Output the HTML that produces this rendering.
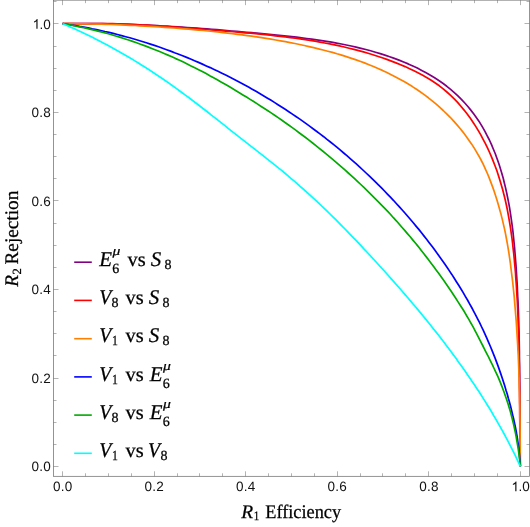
<!DOCTYPE html>
<html><head><meta charset="utf-8"><title>R1 Efficiency vs R2 Rejection</title>
<style>
html,body{margin:0;padding:0;background:#fff;}
body{width:530px;height:527px;overflow:hidden;}
svg{display:block;will-change:transform;}
.tk{font-family:"Liberation Sans",sans-serif;font-size:13.5px;fill:#111;text-rendering:geometricPrecision;}
.ser{font-family:"Liberation Serif",serif;fill:#000;stroke:#000;stroke-width:0.25px;text-rendering:geometricPrecision;}
.it{font-style:italic;}
</style></head><body>
<svg width="530" height="527" viewBox="0 0 530 527">
<rect x="0" y="0" width="530" height="527" fill="#fff"/>

<g fill="none" stroke-width="1.7" stroke-linejoin="round" stroke-linecap="butt">
<path stroke="#800080" d="M62.6,23.7 L67.7,23.7 L72.7,23.7 L77.7,23.7 L82.8,23.7 L87.8,23.7 L92.8,23.7 L97.8,23.7 L102.8,23.7 L107.8,23.8 L112.8,24.0 L117.8,24.1 L122.7,24.2 L127.7,24.4 L132.7,24.6 L137.6,24.8 L142.6,25.0 L147.6,25.2 L152.5,25.4 L157.5,25.7 L162.4,26.0 L167.4,26.2 L172.3,26.5 L177.3,26.8 L182.2,27.2 L187.2,27.5 L192.1,27.8 L197.1,28.2 L202.0,28.6 L207.0,28.9 L211.9,29.3 L216.9,29.7 L221.9,30.1 L226.8,30.5 L231.8,31.0 L236.8,31.4 L241.7,31.8 L246.7,32.3 L251.7,32.7 L256.7,33.2 L261.7,33.6 L266.7,34.1 L271.7,34.6 L276.7,35.1 L281.7,35.6 L286.7,36.1 L291.7,36.7 L296.7,37.2 L301.7,37.8 L306.7,38.5 L311.7,39.1 L316.7,39.8 L321.7,40.6 L326.6,41.4 L331.6,42.2 L336.5,43.1 L341.4,44.0 L346.3,45.0 L351.2,46.0 L356.1,47.1 L361.0,48.3 L365.8,49.5 L370.6,50.8 L375.4,52.2 L380.2,53.6 L384.9,55.1 L389.7,56.7 L394.3,58.4 L399.0,60.1 L403.6,62.0 L408.2,63.9 L412.8,66.0 L417.3,68.1 L421.7,70.4 L426.1,72.7 L430.4,75.2 L434.6,77.8 L438.8,80.5 L442.8,83.3 L446.8,86.3 L450.6,89.4 L454.3,92.6 L457.9,95.9 L461.4,99.4 L464.8,103.0 L468.1,106.7 L471.2,110.6 L474.2,114.5 L477.0,118.5 L479.8,122.6 L482.4,126.9 L484.8,131.2 L487.1,135.6 L489.4,140.0 L491.5,144.6 L493.4,149.2 L495.3,153.8 L497.0,158.5 L498.7,163.3 L500.2,168.1 L501.7,172.9 L503.1,177.8 L504.3,182.7 L505.5,187.6 L506.6,192.5 L507.6,197.5 L508.6,202.4 L509.5,207.4 L510.3,212.3 L511.0,217.2 L511.7,222.2 L512.4,227.1 L513.0,232.1 L513.5,237.0 L514.0,242.0 L514.5,246.9 L514.9,251.9 L515.3,256.8 L515.7,261.8 L516.1,266.7 L516.4,271.7 L516.7,276.7 L517.0,281.6 L517.3,286.6 L517.5,291.6 L517.7,296.6 L518.0,301.5 L518.2,306.5 L518.4,311.5 L518.5,316.5 L518.7,321.5 L518.8,326.5 L519.0,331.5 L519.1,336.5 L519.2,341.5 L519.3,346.4 L519.4,351.4 L519.4,356.4 L519.5,361.4 L519.6,366.4 L519.6,371.4 L519.7,376.4 L519.7,381.4 L519.8,386.4 L519.8,391.4 L519.8,396.4 L519.9,401.4 L519.9,406.4 L519.9,411.4 L519.9,416.4 L520.0,421.4 L520.0,426.4 L520.0,431.4 L520.0,436.4 L520.1,441.4 L520.1,446.4 L520.1,451.4 L520.2,456.3 L520.2,461.3 L520.3,466.3"/>
<path stroke="#ff0000" d="M62.6,23.7 L67.7,23.7 L72.7,23.7 L77.7,23.7 L82.8,23.7 L87.8,23.7 L92.7,23.7 L97.7,23.7 L102.7,23.7 L107.6,23.7 L112.6,23.7 L117.5,23.8 L122.4,24.0 L127.3,24.2 L132.3,24.4 L137.2,24.7 L142.1,25.0 L147.0,25.2 L151.9,25.5 L156.8,25.8 L161.6,26.2 L166.5,26.5 L171.4,26.9 L176.3,27.2 L181.2,27.6 L186.1,28.0 L191.0,28.4 L196.0,28.7 L200.9,29.1 L205.8,29.5 L210.7,29.9 L215.7,30.3 L220.7,30.7 L225.6,31.1 L230.6,31.5 L235.6,31.9 L240.5,32.4 L245.5,32.8 L250.5,33.2 L255.5,33.7 L260.5,34.2 L265.5,34.7 L270.4,35.2 L275.4,35.8 L280.4,36.3 L285.4,36.9 L290.3,37.6 L295.3,38.2 L300.2,38.9 L305.2,39.7 L310.1,40.4 L315.0,41.2 L319.9,42.1 L324.8,43.0 L329.7,43.9 L334.6,44.9 L339.4,45.9 L344.3,47.0 L349.1,48.2 L353.9,49.4 L358.7,50.6 L363.4,51.9 L368.1,53.3 L372.9,54.7 L377.5,56.2 L382.2,57.8 L386.8,59.4 L391.4,61.1 L396.0,62.9 L400.6,64.7 L405.1,66.6 L409.6,68.7 L414.0,70.8 L418.4,73.0 L422.7,75.3 L427.0,77.7 L431.2,80.3 L435.3,83.0 L439.3,85.8 L443.2,88.8 L446.9,92.0 L450.6,95.3 L454.2,98.8 L457.6,102.4 L460.9,106.2 L464.1,110.1 L467.2,114.1 L470.2,118.1 L473.0,122.2 L475.7,126.4 L478.3,130.6 L480.8,134.9 L483.1,139.3 L485.4,143.6 L487.6,148.1 L489.6,152.5 L491.6,157.1 L493.4,161.6 L495.2,166.2 L496.9,170.8 L498.4,175.5 L499.9,180.2 L501.3,185.0 L502.7,189.7 L503.9,194.5 L505.1,199.3 L506.2,204.2 L507.2,209.0 L508.1,213.9 L509.0,218.8 L509.8,223.7 L510.6,228.6 L511.3,233.6 L512.0,238.5 L512.6,243.5 L513.1,248.4 L513.7,253.4 L514.2,258.4 L514.6,263.3 L515.1,268.3 L515.5,273.2 L515.8,278.2 L516.2,283.1 L516.5,288.1 L516.8,293.0 L517.1,298.0 L517.4,302.9 L517.6,307.9 L517.8,312.8 L518.1,317.7 L518.2,322.7 L518.4,327.6 L518.6,332.6 L518.7,337.5 L518.8,342.4 L518.9,347.4 L519.1,352.3 L519.1,357.2 L519.2,362.2 L519.3,367.1 L519.4,372.1 L519.4,377.0 L519.5,381.9 L519.5,386.9 L519.6,391.8 L519.6,396.8 L519.6,401.7 L519.7,406.7 L519.7,411.6 L519.7,416.6 L519.8,421.5 L519.8,426.5 L519.8,431.5 L519.9,436.4 L519.9,441.4 L520.0,446.4 L520.1,451.3 L520.1,456.3 L520.2,461.3 L520.3,466.3"/>
<path stroke="#ff8000" d="M62.6,23.7 L67.4,23.7 L72.2,23.7 L77.0,23.8 L81.8,23.8 L86.6,23.9 L91.4,24.0 L96.2,24.1 L101.1,24.2 L105.9,24.4 L110.8,24.5 L115.6,24.7 L120.5,24.9 L125.3,25.1 L130.2,25.3 L135.1,25.5 L139.9,25.8 L144.8,26.1 L149.7,26.3 L154.6,26.6 L159.4,27.0 L164.3,27.3 L169.2,27.6 L174.1,28.0 L179.0,28.4 L183.8,28.8 L188.7,29.2 L193.6,29.6 L198.5,30.1 L203.3,30.5 L208.2,31.0 L213.1,31.5 L217.9,32.0 L222.8,32.6 L227.6,33.1 L232.5,33.7 L237.3,34.3 L242.2,34.9 L247.0,35.6 L251.8,36.2 L256.6,36.9 L261.4,37.6 L266.2,38.4 L271.0,39.2 L275.8,40.0 L280.6,40.8 L285.4,41.7 L290.1,42.6 L294.9,43.5 L299.6,44.5 L304.3,45.5 L309.0,46.6 L313.7,47.7 L318.4,48.8 L323.1,50.0 L327.8,51.2 L332.4,52.4 L337.0,53.8 L341.7,55.1 L346.3,56.6 L350.8,58.1 L355.4,59.6 L360.0,61.3 L364.5,62.9 L369.0,64.7 L373.5,66.5 L378.0,68.5 L382.4,70.4 L386.9,72.5 L391.2,74.7 L395.6,76.9 L399.8,79.2 L404.1,81.6 L408.3,84.1 L412.4,86.6 L416.5,89.3 L420.5,92.0 L424.5,94.9 L428.4,97.8 L432.2,100.8 L435.9,103.9 L439.6,107.2 L443.2,110.5 L446.7,113.9 L450.2,117.3 L453.5,120.9 L456.8,124.6 L459.9,128.3 L463.0,132.1 L465.9,135.9 L468.7,139.9 L471.5,143.9 L474.1,147.9 L476.6,152.1 L479.0,156.2 L481.3,160.5 L483.4,164.7 L485.4,169.1 L487.4,173.5 L489.2,177.9 L490.9,182.4 L492.6,186.9 L494.2,191.4 L495.7,196.0 L497.1,200.6 L498.5,205.3 L499.8,209.9 L501.1,214.6 L502.3,219.4 L503.4,224.1 L504.5,228.9 L505.5,233.7 L506.4,238.5 L507.3,243.3 L508.1,248.2 L508.9,253.0 L509.6,257.9 L510.3,262.7 L510.9,267.6 L511.5,272.5 L512.1,277.3 L512.7,282.2 L513.2,287.0 L513.7,291.9 L514.2,296.7 L514.6,301.6 L515.0,306.4 L515.4,311.3 L515.8,316.1 L516.2,320.9 L516.5,325.8 L516.8,330.6 L517.1,335.4 L517.4,340.2 L517.7,345.1 L517.9,349.9 L518.2,354.7 L518.4,359.5 L518.6,364.4 L518.8,369.2 L518.9,374.0 L519.1,378.8 L519.2,383.7 L519.3,388.5 L519.5,393.3 L519.6,398.2 L519.7,403.0 L519.8,407.9 L519.8,412.7 L519.9,417.6 L520.0,422.4 L520.0,427.3 L520.1,432.1 L520.1,437.0 L520.2,441.9 L520.2,446.7 L520.2,451.6 L520.3,456.5 L520.3,461.4 L520.3,466.3"/>
<path stroke="#0000ff" d="M62.6,23.7 L66.9,24.3 L71.1,25.0 L75.4,25.6 L79.6,26.4 L83.8,27.1 L88.1,27.9 L92.3,28.8 L96.5,29.6 L100.7,30.5 L104.9,31.5 L109.1,32.4 L113.2,33.4 L117.4,34.5 L121.6,35.6 L125.7,36.7 L129.8,37.8 L134.0,39.0 L138.1,40.2 L142.2,41.5 L146.3,42.8 L150.4,44.1 L154.4,45.4 L158.5,46.8 L162.6,48.2 L166.6,49.7 L170.6,51.1 L174.6,52.7 L178.7,54.2 L182.6,55.8 L186.6,57.4 L190.6,59.0 L194.5,60.7 L198.5,62.4 L202.4,64.1 L206.3,65.9 L210.2,67.6 L214.1,69.5 L218.0,71.3 L221.9,73.2 L225.7,75.1 L229.6,77.0 L233.4,79.0 L237.2,81.0 L241.0,83.0 L244.7,85.0 L248.5,87.1 L252.2,89.2 L256.0,91.3 L259.7,93.5 L263.4,95.7 L267.1,97.9 L270.7,100.1 L274.4,102.4 L278.0,104.7 L281.6,107.0 L285.2,109.3 L288.8,111.7 L292.4,114.1 L295.9,116.5 L299.5,118.9 L303.0,121.4 L306.5,123.9 L309.9,126.4 L313.4,129.0 L316.8,131.5 L320.3,134.1 L323.7,136.7 L327.0,139.4 L330.4,142.0 L333.7,144.7 L337.1,147.4 L340.4,150.2 L343.7,153.0 L346.9,155.7 L350.2,158.6 L353.4,161.4 L356.6,164.2 L359.8,167.1 L362.9,170.0 L366.1,173.0 L369.2,175.9 L372.3,178.9 L375.4,181.9 L378.4,184.9 L381.5,187.9 L384.5,191.0 L387.4,194.1 L390.4,197.2 L393.4,200.3 L396.3,203.5 L399.2,206.6 L402.0,209.8 L404.9,213.0 L407.7,216.3 L410.5,219.5 L413.3,222.8 L416.0,226.1 L418.8,229.4 L421.5,232.8 L424.1,236.1 L426.8,239.5 L429.4,242.9 L432.0,246.3 L434.6,249.8 L437.1,253.3 L439.6,256.7 L442.1,260.2 L444.6,263.8 L447.0,267.3 L449.4,270.9 L451.8,274.4 L454.1,278.0 L456.4,281.7 L458.7,285.3 L461.0,289.0 L463.2,292.6 L465.3,296.3 L467.5,300.0 L469.6,303.8 L471.7,307.5 L473.7,311.3 L475.7,315.1 L477.6,318.9 L479.6,322.7 L481.4,326.5 L483.3,330.4 L485.1,334.3 L486.8,338.2 L488.5,342.1 L490.2,346.0 L491.8,349.9 L493.4,353.9 L495.0,357.9 L496.5,361.9 L498.0,365.9 L499.4,369.9 L500.8,373.9 L502.2,378.0 L503.5,382.1 L504.8,386.1 L506.0,390.2 L507.3,394.3 L508.4,398.5 L509.6,402.6 L510.7,406.8 L511.7,410.9 L512.7,415.1 L513.7,419.3 L514.6,423.5 L515.5,427.7 L516.3,432.0 L517.0,436.2 L517.7,440.5 L518.3,444.8 L518.9,449.0 L519.3,453.3 L519.7,457.6 L520.1,462.0 L520.3,466.3"/>
<path stroke="#00aa00" d="M62.6,23.7 L66.8,24.4 L71.0,25.2 L75.2,26.0 L79.4,26.8 L83.6,27.7 L87.8,28.6 L91.9,29.6 L96.0,30.6 L100.1,31.6 L104.2,32.7 L108.3,33.8 L112.4,35.0 L116.5,36.2 L120.5,37.4 L124.5,38.7 L128.6,40.0 L132.6,41.4 L136.6,42.8 L140.5,44.2 L144.5,45.6 L148.4,47.1 L152.4,48.7 L156.3,50.2 L160.2,51.8 L164.1,53.5 L168.0,55.1 L171.9,56.8 L175.7,58.6 L179.6,60.3 L183.4,62.1 L187.2,64.0 L191.0,65.9 L194.8,67.8 L198.6,69.7 L202.3,71.6 L206.1,73.6 L209.8,75.7 L213.6,77.7 L217.3,79.8 L221.0,81.9 L224.7,84.0 L228.3,86.1 L232.0,88.3 L235.6,90.5 L239.3,92.7 L242.9,94.9 L246.5,97.1 L250.1,99.4 L253.7,101.6 L257.3,103.9 L260.8,106.2 L264.4,108.5 L267.9,110.8 L271.5,113.1 L275.0,115.5 L278.5,117.9 L281.9,120.3 L285.4,122.7 L288.9,125.2 L292.3,127.6 L295.7,130.1 L299.1,132.7 L302.5,135.2 L305.9,137.8 L309.3,140.4 L312.6,143.0 L315.9,145.6 L319.3,148.3 L322.6,151.0 L325.8,153.6 L329.1,156.4 L332.4,159.1 L335.6,161.8 L338.8,164.6 L342.0,167.4 L345.2,170.2 L348.3,173.0 L351.5,175.8 L354.6,178.7 L357.7,181.6 L360.8,184.5 L363.9,187.4 L366.9,190.3 L369.9,193.3 L372.9,196.3 L375.9,199.3 L378.9,202.3 L381.8,205.3 L384.8,208.4 L387.7,211.4 L390.6,214.5 L393.4,217.7 L396.3,220.8 L399.1,224.0 L401.9,227.2 L404.7,230.4 L407.4,233.6 L410.2,236.8 L412.9,240.1 L415.6,243.3 L418.3,246.6 L420.9,250.0 L423.5,253.3 L426.1,256.6 L428.7,260.0 L431.3,263.4 L433.8,266.8 L436.3,270.2 L438.8,273.6 L441.3,277.0 L443.8,280.5 L446.2,284.0 L448.6,287.5 L451.0,291.0 L453.3,294.5 L455.6,298.0 L457.9,301.6 L460.2,305.2 L462.5,308.7 L464.7,312.3 L466.8,316.0 L469.0,319.6 L471.0,323.3 L473.1,326.9 L475.0,330.6 L477.0,334.3 L478.9,338.1 L480.8,341.8 L482.7,345.5 L484.6,349.3 L486.5,353.1 L488.5,356.9 L490.4,360.8 L492.3,364.6 L494.1,368.5 L495.9,372.3 L497.7,376.2 L499.4,380.2 L501.0,384.1 L502.5,388.0 L504.0,392.0 L505.4,396.0 L506.8,400.0 L508.1,404.0 L509.3,408.1 L510.5,412.1 L511.6,416.2 L512.6,420.3 L513.6,424.4 L514.5,428.5 L515.4,432.6 L516.2,436.8 L516.9,441.0 L517.6,445.1 L518.3,449.3 L518.9,453.6 L519.4,457.8 L519.9,462.0 L520.3,466.3"/>
<path stroke="#00ffff" d="M62.6,23.7 L66.4,25.3 L70.2,26.9 L73.9,28.6 L77.6,30.3 L81.4,32.0 L85.0,33.8 L88.7,35.5 L92.4,37.3 L96.0,39.2 L99.6,41.0 L103.2,42.9 L106.8,44.8 L110.4,46.7 L113.9,48.7 L117.5,50.7 L121.0,52.7 L124.5,54.7 L128.0,56.7 L131.5,58.8 L134.9,60.9 L138.4,63.0 L141.8,65.2 L145.2,67.3 L148.7,69.5 L152.1,71.7 L155.4,74.0 L158.8,76.2 L162.2,78.5 L165.5,80.8 L168.9,83.1 L172.2,85.5 L175.5,87.9 L178.8,90.2 L182.1,92.7 L185.4,95.1 L188.7,97.5 L191.9,100.0 L195.2,102.5 L198.5,105.0 L201.7,107.5 L205.0,110.0 L208.2,112.5 L211.4,115.1 L214.7,117.6 L217.9,120.2 L221.1,122.7 L224.3,125.2 L227.5,127.8 L230.7,130.3 L233.9,132.8 L237.1,135.3 L240.3,137.8 L243.5,140.3 L246.7,142.8 L249.9,145.3 L253.1,147.8 L256.3,150.3 L259.5,152.8 L262.7,155.3 L265.8,157.8 L269.0,160.3 L272.1,162.8 L275.3,165.3 L278.4,167.9 L281.6,170.4 L284.7,173.0 L287.8,175.6 L290.9,178.3 L294.0,180.9 L297.1,183.6 L300.1,186.3 L303.2,189.0 L306.2,191.7 L309.2,194.4 L312.2,197.1 L315.2,199.9 L318.2,202.7 L321.2,205.5 L324.2,208.3 L327.1,211.1 L330.0,214.0 L332.9,216.9 L335.8,219.7 L338.7,222.7 L341.6,225.6 L344.5,228.5 L347.3,231.4 L350.1,234.3 L353.0,237.3 L355.8,240.2 L358.6,243.1 L361.4,246.1 L364.1,249.1 L366.9,252.0 L369.7,255.0 L372.4,258.0 L375.2,261.0 L377.9,264.0 L380.6,267.0 L383.4,270.0 L386.1,273.0 L388.8,276.0 L391.5,279.1 L394.2,282.1 L396.9,285.2 L399.6,288.2 L402.2,291.3 L404.9,294.4 L407.6,297.5 L410.2,300.6 L412.8,303.7 L415.5,306.8 L418.1,309.9 L420.7,313.1 L423.3,316.2 L425.9,319.4 L428.4,322.5 L431.0,325.7 L433.5,328.9 L436.1,332.1 L438.6,335.3 L441.1,338.5 L443.6,341.7 L446.0,345.0 L448.5,348.2 L450.9,351.5 L453.3,354.8 L455.8,358.1 L458.1,361.4 L460.5,364.7 L462.9,368.0 L465.2,371.3 L467.5,374.7 L469.8,378.0 L472.1,381.4 L474.4,384.8 L476.6,388.2 L478.9,391.6 L481.1,395.0 L483.2,398.4 L485.4,401.9 L487.5,405.3 L489.7,408.8 L491.8,412.3 L493.8,415.8 L495.9,419.3 L497.9,422.8 L499.9,426.4 L501.9,429.9 L503.9,433.5 L505.8,437.1 L507.7,440.7 L509.6,444.3 L511.4,447.9 L513.3,451.6 L515.1,455.2 L516.8,458.9 L518.6,462.6 L520.3,466.3"/>
</g>
<path d="M62.50,476.3 v-5.0 M62.50,0.15 v5.0 M85.50,476.3 v-3.0 M85.50,0.15 v3.0 M108.50,476.3 v-3.0 M108.50,0.15 v3.0 M131.50,476.3 v-3.0 M131.50,0.15 v3.0 M154.50,476.3 v-5.0 M154.50,0.15 v5.0 M177.50,476.3 v-3.0 M177.50,0.15 v3.0 M199.50,476.3 v-3.0 M199.50,0.15 v3.0 M222.50,476.3 v-3.0 M222.50,0.15 v3.0 M245.50,476.3 v-5.0 M245.50,0.15 v5.0 M268.50,476.3 v-3.0 M268.50,0.15 v3.0 M291.50,476.3 v-3.0 M291.50,0.15 v3.0 M314.50,476.3 v-3.0 M314.50,0.15 v3.0 M337.50,476.3 v-5.0 M337.50,0.15 v5.0 M360.50,476.3 v-3.0 M360.50,0.15 v3.0 M382.50,476.3 v-3.0 M382.50,0.15 v3.0 M405.50,476.3 v-3.0 M405.50,0.15 v3.0 M428.50,476.3 v-5.0 M428.50,0.15 v5.0 M451.50,476.3 v-3.0 M451.50,0.15 v3.0 M474.50,476.3 v-3.0 M474.50,0.15 v3.0 M497.50,476.3 v-3.0 M497.50,0.15 v3.0 M520.50,476.3 v-5.0 M520.50,0.15 v5.0 M53.5,466.50 h5.0 M529.5,466.50 h-5.0 M53.5,444.50 h3.0 M529.5,444.50 h-3.0 M53.5,422.50 h3.0 M529.5,422.50 h-3.0 M53.5,400.50 h3.0 M529.5,400.50 h-3.0 M53.5,378.50 h5.0 M529.5,378.50 h-5.0 M53.5,355.50 h3.0 M529.5,355.50 h-3.0 M53.5,333.50 h3.0 M529.5,333.50 h-3.0 M53.5,311.50 h3.0 M529.5,311.50 h-3.0 M53.5,289.50 h5.0 M529.5,289.50 h-5.0 M53.5,267.50 h3.0 M529.5,267.50 h-3.0 M53.5,245.50 h3.0 M529.5,245.50 h-3.0 M53.5,223.50 h3.0 M529.5,223.50 h-3.0 M53.5,200.50 h5.0 M529.5,200.50 h-5.0 M53.5,178.50 h3.0 M529.5,178.50 h-3.0 M53.5,156.50 h3.0 M529.5,156.50 h-3.0 M53.5,134.50 h3.0 M529.5,134.50 h-3.0 M53.5,112.50 h5.0 M529.5,112.50 h-5.0 M53.5,90.50 h3.0 M529.5,90.50 h-3.0 M53.5,68.50 h3.0 M529.5,68.50 h-3.0 M53.5,46.50 h3.0 M529.5,46.50 h-3.0 M53.5,23.50 h5.0 M529.5,23.50 h-5.0 M53.5,1.50 h3.0 M529.5,1.50 h-3.0" stroke="#666666" stroke-width="0.5" fill="none"/>
<rect x="53.5" y="0.15" width="476.0" height="476.15000000000003" fill="none" stroke="#666666" stroke-width="0.7"/>
<text class="tk" x="52.97" y="491.20" letter-spacing="0.25">0.0</text>
<text class="tk" x="31.53" y="471.42" letter-spacing="0.25">0.0</text>
<text class="tk" x="144.51" y="491.20" letter-spacing="0.25">0.2</text>
<text class="tk" x="31.53" y="382.90" letter-spacing="0.25">0.2</text>
<text class="tk" x="236.05" y="491.20" letter-spacing="0.25">0.4</text>
<text class="tk" x="31.53" y="294.38" letter-spacing="0.25">0.4</text>
<text class="tk" x="327.59" y="491.20" letter-spacing="0.25">0.6</text>
<text class="tk" x="31.53" y="205.86" letter-spacing="0.25">0.6</text>
<text class="tk" x="419.13" y="491.20" letter-spacing="0.25">0.8</text>
<text class="tk" x="31.53" y="117.34" letter-spacing="0.25">0.8</text>
<path d="M763,0 L583,0 L583,1147 Q518,1085 412.5,1023 Q307,961 223,930 L223,1104 Q374,1175 487,1276 Q600,1377 647,1472 L763,1472 Z" fill="#111" transform="translate(511.42,491.20) scale(0.006592,-0.006592)"/><text class="tk" x="518.42" y="491.20">.0</text>
<path d="M763,0 L583,0 L583,1147 Q518,1085 412.5,1023 Q307,961 223,930 L223,1104 Q374,1175 487,1276 Q600,1377 647,1472 L763,1472 Z" fill="#111" transform="translate(32.53,28.82) scale(0.006592,-0.006592)"/><text class="tk" x="39.54" y="28.82">.0</text>
<text class="ser it" transform="translate(241.2,517.6) scale(1.01,1)" font-size="19.25">R</text>
<text class="ser" transform="translate(253.7,520.3) scale(0.85,1)" font-size="12.8">1</text>
<text class="ser" transform="translate(265.2,517.6) scale(0.951,1)" font-size="19.25">Efficiency</text>
<g transform="translate(18,286.8) rotate(-90)"><text class="ser" x="0" y="0" font-size="19.25"><tspan class="it">R</tspan><tspan font-size="12.5" dx="0.6" dy="3">2</tspan><tspan dy="-3" dx="3.7">Rejection</tspan></text></g>
<path d="M74.2,262.2 H91.8" stroke="#800080" stroke-width="1.6" fill="none"/>
<text class="ser it" x="99.3" y="265.8" font-size="20.9">E</text><text class="ser it" transform="translate(112.4,255.4) scale(1.12,0.92)" font-size="14">μ</text><text class="ser" x="112.3" y="273.2" font-size="14">6</text>
<text class="ser" x="127.6" y="265.8" font-size="20.4">vs</text>
<text class="ser it" transform="translate(150.79999999999998,265.8) scale(1,1)" font-size="20.9">S</text><text class="ser" x="164.49999999999997" y="268.9" font-size="14">8</text>
<path d="M74.2,300.4 H91.8" stroke="#ff0000" stroke-width="1.6" fill="none"/>
<text class="ser it" transform="translate(99.3,304.0) scale(0.94,1)" font-size="20.9">V</text><text class="ser" x="111.6" y="307.1" font-size="14">8</text>
<text class="ser" x="125.5" y="304.0" font-size="20.4">vs</text>
<text class="ser it" transform="translate(148.7,304.0) scale(1,1)" font-size="20.9">S</text><text class="ser" x="162.39999999999998" y="307.1" font-size="14">8</text>
<path d="M74.2,338.7 H91.8" stroke="#ff8000" stroke-width="1.6" fill="none"/>
<text class="ser it" transform="translate(99.3,342.3) scale(0.94,1)" font-size="20.9">V</text><text class="ser" transform="translate(112.1,345.4) scale(0.84,1)" font-size="14">1</text>
<text class="ser" x="125.5" y="342.3" font-size="20.4">vs</text>
<text class="ser it" transform="translate(148.7,342.3) scale(1,1)" font-size="20.9">S</text><text class="ser" x="162.39999999999998" y="345.4" font-size="14">8</text>
<path d="M74.2,376.9 H91.8" stroke="#0000ff" stroke-width="1.6" fill="none"/>
<text class="ser it" transform="translate(99.3,380.5) scale(0.94,1)" font-size="20.9">V</text><text class="ser" transform="translate(112.1,383.6) scale(0.84,1)" font-size="14">1</text>
<text class="ser" x="125.5" y="380.5" font-size="20.4">vs</text>
<text class="ser it" x="149.79999999999998" y="380.5" font-size="20.9">E</text><text class="ser it" transform="translate(162.9,370.1) scale(1.12,0.92)" font-size="14">μ</text><text class="ser" x="162.79999999999998" y="387.9" font-size="14">6</text>
<path d="M74.2,415.1 H91.8" stroke="#00aa00" stroke-width="1.6" fill="none"/>
<text class="ser it" transform="translate(99.3,418.7) scale(0.94,1)" font-size="20.9">V</text><text class="ser" x="111.6" y="421.8" font-size="14">8</text>
<text class="ser" x="125.5" y="418.7" font-size="20.4">vs</text>
<text class="ser it" x="149.79999999999998" y="418.7" font-size="20.9">E</text><text class="ser it" transform="translate(162.9,408.3) scale(1.12,0.92)" font-size="14">μ</text><text class="ser" x="162.79999999999998" y="426.1" font-size="14">6</text>
<path d="M74.2,453.3 H91.8" stroke="#00ffff" stroke-width="1.6" fill="none"/>
<text class="ser it" transform="translate(99.3,456.9) scale(0.94,1)" font-size="20.9">V</text><text class="ser" transform="translate(112.1,460.1) scale(0.84,1)" font-size="14">1</text>
<text class="ser" x="125.5" y="456.9" font-size="20.4">vs</text>
<text class="ser it" transform="translate(148.1,456.9) scale(0.94,1)" font-size="20.9">V</text><text class="ser" x="160.4" y="460.1" font-size="14">8</text>
</svg></body></html>
